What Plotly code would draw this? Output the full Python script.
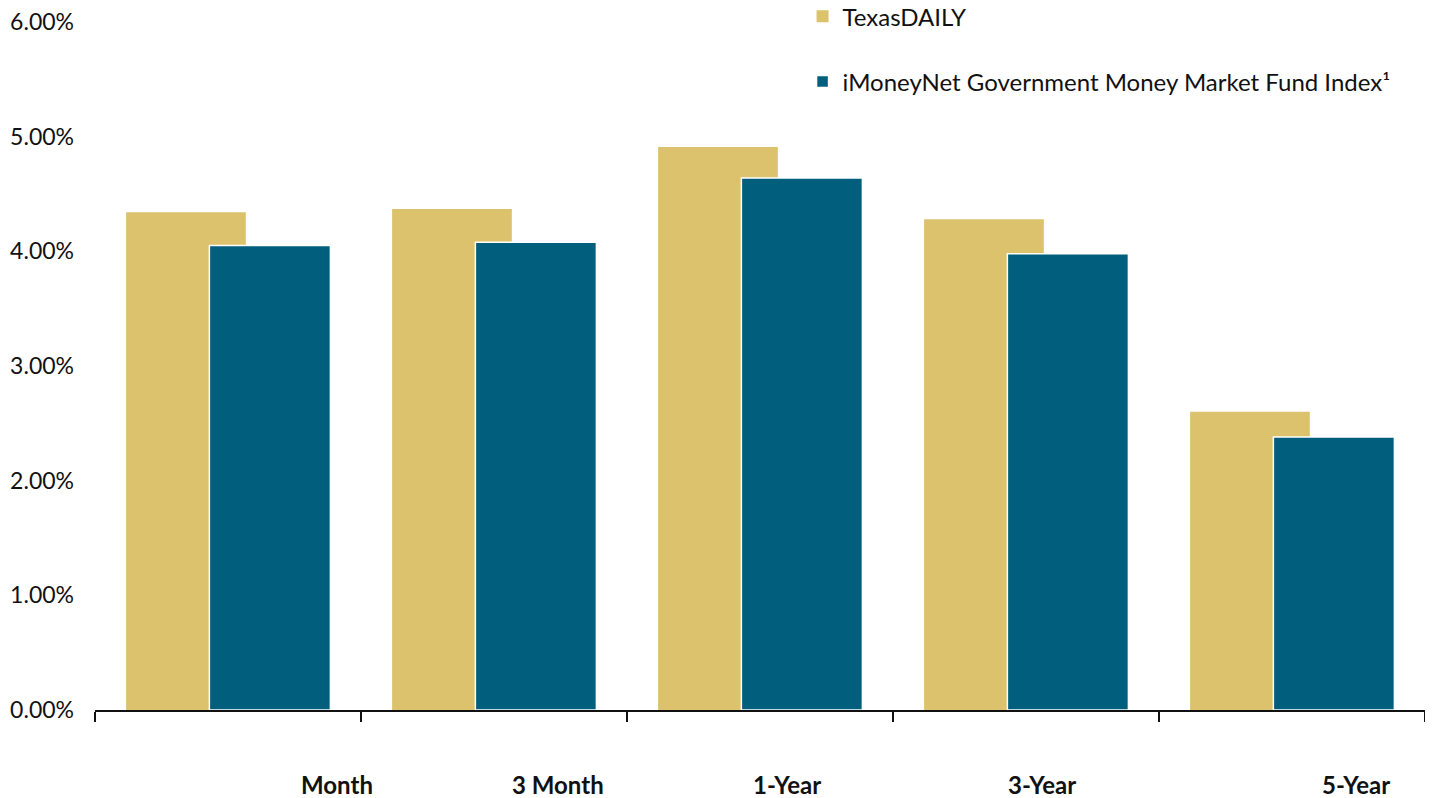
import plotly.graph_objects as go

categories = ["Month", "3 Month", "1-Year", "3-Year", "5-Year"]
texas_daily = [4.34, 4.37, 4.91, 4.28, 2.60]
imoneynet = [4.05, 4.08, 4.64, 3.98, 2.38]
series_names = ["TexasDAILY", "iMoneyNet Government Money Market Fund Index¹"]
y_ticks = [0, 1, 2, 3, 4, 5, 6]
y_tick_labels = ["0.00%", "1.00%", "2.00%", "3.00%", "4.00%", "5.00%", "6.00%"]

# label placement (style, in category units from each category centre)
label_shift = [0.41, 0.24, 0.10, 0.06, 0.24]

GOLD = "#DCC26C"
TEAL = "#015E7D"
FONT = "Lato"

fig = go.Figure()
fig.add_trace(go.Bar(
    x=list(range(len(categories))), y=texas_daily, name=series_names[0],
    marker=dict(color=GOLD, line=dict(width=0)),
    width=0.45, offset=-0.383, legendgroup="a",
))
fig.add_trace(go.Bar(
    x=list(range(len(categories))), y=imoneynet, name=series_names[1],
    marker=dict(color=TEAL, line=dict(width=1.5, color="white")),
    width=0.455, offset=-0.07, legendgroup="b",
))

for i, (c, s) in enumerate(zip(categories, label_shift)):
    fig.add_annotation(x=i + s, y=0, xref="x", yref="y", text=f"<b>{c}</b>",
                       showarrow=False, yshift=-74, font=dict(size=24, color="#111111", family=FONT))

fig.update_layout(
    width=1425, height=790,
    margin=dict(l=87, r=8, t=14, b=88, autoexpand=False),
    barmode="overlay",
    plot_bgcolor="white", paper_bgcolor="white",
    font=dict(family=FONT, size=23, color="#111111"),
    showlegend=True,
    legend=dict(x=0.532, y=1.0403, xanchor="left", yanchor="top", xref="paper", yref="paper",
                traceorder="grouped", tracegroupgap=31, font=dict(size=24),
                itemwidth=30, bgcolor="rgba(0,0,0,0)"),
    xaxis=dict(range=[-0.5, 4.5], tickmode="array", tickvals=[-0.5, 0.5, 1.5, 2.5, 3.5, 4.5],
               ticktext=[""] * 6, ticks="outside", ticklen=10, tickwidth=1.5, tickcolor="#111111",
               showline=True, linecolor="#111111", linewidth=1.5, showgrid=False, zeroline=False,
               fixedrange=True),
    yaxis=dict(range=[0, 6], tickvals=y_ticks, ticktext=y_tick_labels, showgrid=False,
               zeroline=False, showline=False, ticks="", ticklabelstandoff=20,
               ticklabeloverflow="allow", tickfont=dict(size=23), fixedrange=True),
)

fig.write_html("out.html")
